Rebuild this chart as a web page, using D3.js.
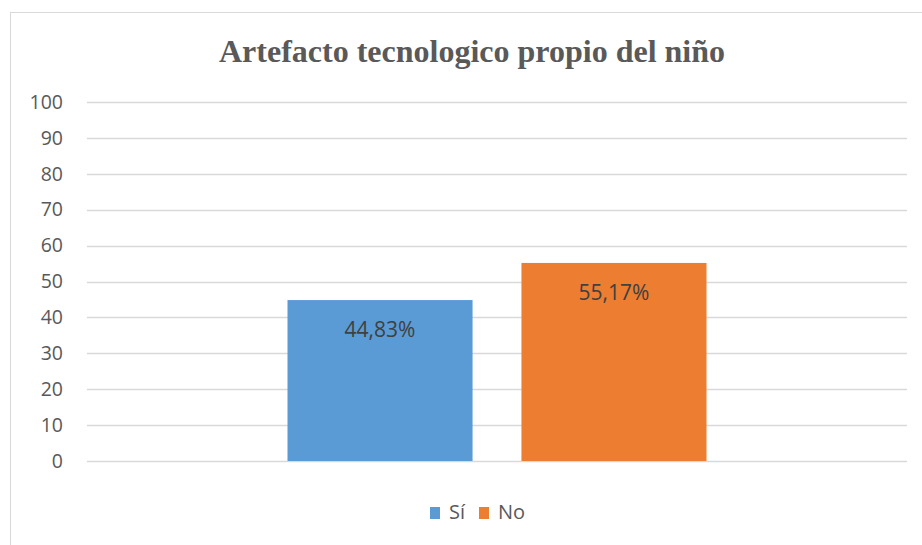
<!DOCTYPE html>
<html>
<head>
<meta charset="utf-8">
<script src="https://cdn.jsdelivr.net/npm/d3@7"></script>
<style>
  html, body { margin: 0; padding: 0; background: #fff; }
  svg { display: block; }
</style>
</head>
<body>
<svg id="chart" width="922" height="545"></svg>
<script>
// chart data
const title = 'Artefacto tecnologico propio del niño';
const categories = ['Artefacto'];
const series = ['Sí', 'No'];
const values = [44.83, 55.17];
const labels = ['44,83%', '55,17%'];
const colors = ['#5B9BD5', '#ED7D31'];
const yTicks = [0, 10, 20, 30, 40, 50, 60, 70, 80, 90, 100];

const svg = d3.select('#chart');
const labelFont = '"Open Sans", "Noto Sans", sans-serif';

// chart area border (runs off the right and bottom edge)
svg.append('rect')
  .attr('x', 10.5).attr('y', 12.5)
  .attr('width', 1000).attr('height', 600)
  .attr('fill', '#fff')
  .attr('stroke', '#d9d9d9')
  .attr('stroke-width', 1);

const plot = { left: 87, right: 907, top: 102, bottom: 461 };

const y = d3.scaleLinear().domain([0, 100]).range([plot.bottom, plot.top]);

const x0 = d3.scaleBand()
  .domain(categories)
  .range([plot.left, plot.right])
  .paddingInner(0)
  .paddingOuter(0.4785);

const x1 = d3.scaleBand()
  .domain(series)
  .range([0, x0.bandwidth()])
  .paddingInner(0.209)
  .paddingOuter(0);

// gridlines
svg.append('g')
  .selectAll('line')
  .data(yTicks)
  .join('line')
  .attr('x1', plot.left).attr('x2', plot.right)
  .attr('y1', d => Math.round(y(d)) + 0.5)
  .attr('y2', d => Math.round(y(d)) + 0.5)
  .attr('stroke', '#d9d9d9')
  .attr('stroke-width', 1.3);

// y axis labels
const yAxis = svg.append('g')
  .attr('transform', `translate(${plot.left - 24},0)`)
  .call(d3.axisLeft(y).tickValues(yTicks).tickSize(0).tickPadding(0));
yAxis.select('.domain').remove();
yAxis.selectAll('text')
  .attr('fill', '#595959')
  .attr('font-family', labelFont)
  .attr('font-size', 19.5);

// bars
const barData = series.map((s, i) => ({ cat: categories[0], s, v: values[i], label: labels[i], color: colors[i] }));

const groups = svg.append('g');
groups.selectAll('rect')
  .data(barData)
  .join('rect')
  .attr('x', d => x0(d.cat) + x1(d.s))
  .attr('y', d => y(d.v))
  .attr('width', x1.bandwidth())
  .attr('height', d => y(0) - y(d.v))
  .attr('fill', d => d.color);

// data labels inside the top of each bar
groups.selectAll('text')
  .data(barData)
  .join('text')
  .attr('x', d => x0(d.cat) + x1(d.s) + x1.bandwidth() / 2)
  .attr('y', d => y(d.v) + 37)
  .attr('text-anchor', 'middle')
  .attr('fill', '#404040')
  .attr('font-family', labelFont)
  .attr('font-size', 21)
  .text(d => d.label);

// title
svg.append('text')
  .attr('x', 472)
  .attr('y', 62)
  .attr('text-anchor', 'middle')
  .attr('fill', '#595959')
  .attr('font-family', '"Liberation Serif", "Times New Roman", serif')
  .attr('font-weight', 'bold')
  .attr('font-size', 32)
  .text(title);

// legend
const legend = svg.append('g');
const legendX = [430, 479];
series.forEach((s, i) => {
  const g = legend.append('g').attr('transform', `translate(${legendX[i]},507)`);
  g.append('rect')
    .attr('width', 10).attr('height', 12)
    .attr('fill', colors[i]);
  g.append('text')
    .attr('x', 19).attr('y', 12)
    .attr('fill', '#595959')
    .attr('font-family', labelFont)
    .attr('font-size', 20)
    .text(s);
});
</script>
</body>
</html>
